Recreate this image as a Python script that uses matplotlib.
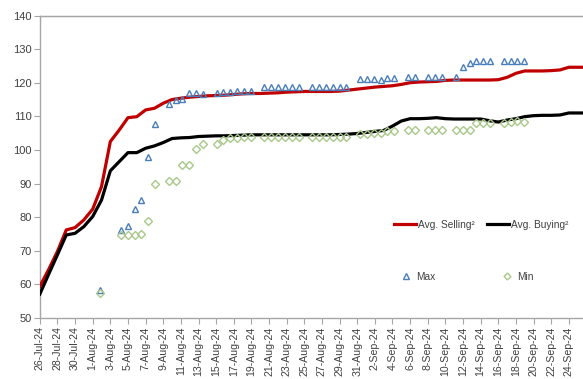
import matplotlib
matplotlib.use("Agg")
import matplotlib.pyplot as plt
import matplotlib.dates as mdates
from matplotlib import font_manager
from matplotlib.lines import Line2D
import pandas as pd

_names = {f.name for f in font_manager.fontManager.ttflist}
_main = "Liberation Sans Narrow" if "Liberation Sans Narrow" in _names else "Liberation Sans"
plt.rcParams['font.family'] = [_main, 'DejaVu Sans']
NARROW = _main == "Liberation Sans Narrow"

# ---- data ----
start_date = "2024-07-26"
avg_selling = [59.4, 64.4, 69.8, 76.2, 76.9, 79.2, 82.4, 89.1, 102.5, 105.9,
               109.6, 109.9, 111.9, 112.4, 113.9, 115.0, 115.4, 115.7, 115.9, 116.1,
               116.2, 116.3, 116.5, 116.7, 116.8, 116.8, 116.9, 117.0, 117.2, 117.3,
               117.4, 117.4, 117.4, 117.4, 117.5, 117.8, 118.1, 118.4, 118.7, 118.9,
               119.1, 119.5, 120.0, 120.2, 120.3, 120.4, 120.7, 120.8, 120.8, 120.8,
               120.8, 120.8, 120.9, 121.6, 122.8, 123.5, 123.5, 123.5, 123.6, 123.8,
               124.6, 124.6, 124.6]
avg_buying = [57.1, 63.0, 68.8, 74.7, 75.2, 77.2, 80.2, 85.1, 93.8, 96.5,
              99.2, 99.2, 100.5, 101.2, 102.2, 103.4, 103.6, 103.7, 104.0, 104.1,
              104.2, 104.2, 104.3, 104.4, 104.5, 104.5, 104.5, 104.5, 104.5, 104.5,
              104.5, 104.5, 104.5, 104.5, 104.6, 104.7, 104.9, 105.2, 105.5, 105.8,
              107.1, 108.6, 109.3, 109.3, 109.4, 109.6, 109.3, 109.2, 109.2, 109.2,
              109.2, 108.7, 108.3, 108.9, 109.3, 109.9, 110.2, 110.3, 110.3, 110.4,
              111.0, 111.0, 111.0]

# markers live on a secondary horizontal axis (slot index)
marker_slots = [9, 12, 13, 14, 15, 16, 17, 19, 20, 21, 22, 23, 24,
                26, 27, 28, 29, 30, 31, 33, 34, 35, 36, 37, 38,
                40, 41, 42, 43, 44, 45, 47, 48, 49, 50, 51, 52,
                54, 55, 57, 58, 59, 61, 62, 63, 64, 65, 66,
                68, 69, 70, 71]
max_vals = [58.4, 76.2, 77.5, 82.5, 85.0, 97.8, 107.6, 113.8, 115.0, 115.2, 116.8, 116.8, 116.6,
            116.8, 117.1, 117.1, 117.4, 117.4, 117.4, 118.8, 118.8, 118.8, 118.8, 118.7, 118.8,
            118.8, 118.8, 118.8, 118.8, 118.8, 118.8, 121.0, 121.0, 121.0, 120.7, 121.3, 121.5,
            121.6, 121.6, 121.6, 121.6, 121.6, 121.6, 124.8, 126.0, 126.5, 126.5, 126.5,
            126.5, 126.5, 126.5, 126.5]
min_vals = [57.4, 74.8, 74.8, 74.8, 75.0, 78.9, 90.0, 90.9, 90.9, 95.6, 95.6, 100.2, 101.8,
            101.8, 103.0, 103.5, 103.5, 103.8, 103.8, 104.0, 104.0, 104.0, 104.0, 104.0, 104.0,
            104.0, 104.0, 104.0, 104.0, 104.0, 104.0, 104.7, 104.7, 105.0, 105.0, 105.6, 105.6,
            105.8, 105.8, 105.8, 105.8, 105.8, 105.8, 105.8, 105.8, 107.9, 108.1, 107.9,
            107.9, 108.4, 108.6, 108.4]

y_ticks = [50, 60, 70, 80, 90, 100, 110, 120, 130, 140]
legend_labels = ["Avg. Selling²", "Avg. Buying²", "Max", "Min"]

dates = pd.date_range(start_date, periods=len(avg_selling), freq="D")
tick_dates = dates[:61:2]
tick_labels = [f"{d.day}-{d.strftime('%b-%y')}" for d in tick_dates]

# ---- figure ----
W, H = 583, 379
fig = plt.figure(figsize=(W / 100, H / 100), dpi=100)
left_px, right_px, top_px, bot_px = 39.8, 583, 15.5, 318
ax = fig.add_axes([left_px / W, 1 - bot_px / H, (right_px - left_px) / W, (bot_px - top_px) / H])

grey = "#A6A6A6"
ax.plot(dates, avg_selling, color="#C00000", lw=2.3, solid_joinstyle="round", zorder=3)
ax.plot(dates, avg_buying, color="#000000", lw=2.3, solid_joinstyle="round", zorder=3)

px_per_day = 8.817
x0 = mdates.date2num(pd.Timestamp(start_date))
ax.set_xlim(x0, x0 + (right_px - left_px) / px_per_day)
ax.set_ylim(50, 140)
ax.set_yticks(y_ticks)
ax.set_xticks(mdates.date2num(tick_dates))
ax.set_xticklabels(tick_labels, rotation=90, va="top", ha="center")

xfs = 8.6 if NARROW else 7.6
ax.tick_params(axis="x", labelsize=xfs, length=4, color=grey, pad=2, labelcolor="#404040")
ax.tick_params(axis="y", labelsize=8.5 if NARROW else 8, length=4, color=grey, pad=2,
               labelcolor="#404040")
for s in ["left", "bottom", "top"]:
    ax.spines[s].set_color(grey)
    ax.spines[s].set_linewidth(1)
ax.spines["right"].set_visible(False)

# secondary horizontal axis for markers
ax2 = ax.twiny()
slot_px = 6.835
slot0_px = 38.9
ax2.set_xlim((left_px - slot0_px) / slot_px, (right_px - slot0_px) / slot_px)
ax2.set_ylim(50, 140)
ax2.plot(marker_slots, max_vals, linestyle="none", marker="^", markersize=4.8,
         markerfacecolor="none", markeredgecolor="#4A7EBB", markeredgewidth=1.0, zorder=4)
ax2.plot(marker_slots, min_vals, linestyle="none", marker="D", markersize=3.6,
         markerfacecolor="none", markeredgecolor="#A9C98A", markeredgewidth=1.0, zorder=4)
ax2.set_xticks([])
ax2.tick_params(axis="x", length=0)
for s in ["left", "bottom", "right"]:
    ax2.spines[s].set_visible(False)
ax2.spines["top"].set_color(grey)

# legends
lfs = 8.5 if NARROW else 7.3
line_handles = [Line2D([], [], color="#C00000", lw=2.3),
                Line2D([], [], color="#000000", lw=2.3)]
fig.legend(line_handles, legend_labels[:2], loc="center left",
           bbox_to_anchor=(394 / W, 1 - 225 / H), ncol=2, frameon=False,
           fontsize=lfs, handlelength=2.2, handletextpad=0.15, columnspacing=1.2,
           borderpad=0, borderaxespad=0, labelcolor="#404040")
mk_handles = [Line2D([], [], linestyle="none", marker="^", markersize=4.5,
                     markerfacecolor="none", markeredgecolor="#4A7EBB"),
              Line2D([], [], linestyle="none", marker="D", markersize=3.5,
                     markerfacecolor="none", markeredgecolor="#A9C98A")]
fig.legend(mk_handles, legend_labels[2:], loc="center left",
           bbox_to_anchor=(401 / W, 1 - 277 / H), ncol=2, frameon=False,
           fontsize=lfs, handlelength=1.0, handletextpad=0.5, columnspacing=6.6,
           borderpad=0, borderaxespad=0, labelcolor="#404040")

fig.savefig("out.png", dpi=100)
